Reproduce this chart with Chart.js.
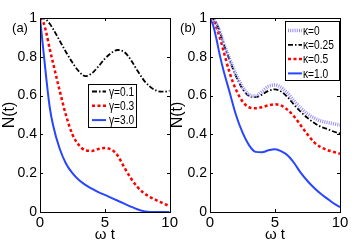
<!DOCTYPE html>
<html>
<head>
<meta charset="utf-8">
<script src="https://cdn.jsdelivr.net/npm/chart.js@4"></script>
<style>
  body { margin: 0; background: #fff; }
  #wrap { position: relative; width: 360px; height: 250px; overflow: hidden; }
  canvas { position: absolute; top: 0; }
</style>
</head>
<body>
<div id="wrap">
  <canvas id="ca" width="180" height="250" style="left:0;width:180px;height:250px"></canvas>
  <canvas id="cb" width="192" height="250" style="left:168px;width:192px;height:250px"></canvas>
</div>
<script>
// time axis (omega t), shared by every curve
const T = [0, 0.25, 0.5, 0.75, 1, 1.5, 2, 2.5, 3, 3.5, 4, 4.5, 5, 5.5, 6, 6.5, 7, 7.5, 8, 8.5, 9, 9.5, 10];

// panel (a): N(t) for three gamma values
const gamma01 = [1, 0.998, 0.99, 0.97, 0.945, 0.885, 0.825, 0.77, 0.725, 0.70, 0.715, 0.75, 0.79, 0.82, 0.835, 0.825, 0.785, 0.73, 0.68, 0.645, 0.625, 0.62, 0.625];
const gamma03 = [1, 0.98, 0.92, 0.84, 0.77, 0.63, 0.50, 0.40, 0.345, 0.318, 0.315, 0.325, 0.33, 0.322, 0.29, 0.23, 0.175, 0.13, 0.098, 0.077, 0.06, 0.045, 0.03];
const gamma30 = [1, 0.84, 0.68, 0.54, 0.45, 0.33, 0.25, 0.20, 0.165, 0.14, 0.12, 0.102, 0.088, 0.073, 0.058, 0.043, 0.028, 0.014, 0.004, 0, 0, 0, 0];

// panel (b): N(t) for four kappa values
const kappa0   = [1, 0.995, 0.97, 0.93, 0.88, 0.79, 0.71, 0.645, 0.605, 0.598, 0.62, 0.648, 0.655, 0.64, 0.61, 0.57, 0.535, 0.505, 0.485, 0.47, 0.462, 0.455, 0.448];
const kappa025 = [1, 0.995, 0.97, 0.93, 0.875, 0.785, 0.70, 0.635, 0.598, 0.592, 0.605, 0.625, 0.632, 0.62, 0.59, 0.55, 0.515, 0.485, 0.46, 0.44, 0.428, 0.415, 0.405];
const kappa05  = [1, 0.99, 0.95, 0.90, 0.84, 0.72, 0.63, 0.57, 0.54, 0.535, 0.54, 0.55, 0.555, 0.548, 0.525, 0.49, 0.445, 0.40, 0.36, 0.335, 0.32, 0.31, 0.30];
const kappa10  = [1, 0.96, 0.89, 0.81, 0.74, 0.62, 0.50, 0.41, 0.345, 0.31, 0.308, 0.318, 0.323, 0.312, 0.29, 0.25, 0.20, 0.16, 0.125, 0.095, 0.07, 0.045, 0.025];

const xTicks = [0, 5, 10];
const yTicks = [0, 0.2, 0.4, 0.6, 0.8, 1];

const FONT = '"Liberation Sans", Arial, Helvetica, sans-serif';

const pts = (ys) => T.map((t, i) => ({ x: t, y: ys[i] }));

const styles = {
  black:  { borderColor: '#000', borderWidth: 1.8, borderDash: [5, 2, 1.5, 2] },
  red:    { borderColor: 'rgb(255,0,0)', borderWidth: 2.5, borderDash: [3, 2.5] },
  blue:   { borderColor: 'rgb(40,70,255)', borderWidth: 2, borderDash: [] },
  purple: { borderColor: 'rgb(150,140,250)', borderWidth: 3.5, borderDash: [1, 1.2] }
};

const line = (label, ys, st) => Object.assign({
  label, data: pts(ys), pointRadius: 0, fill: false,
  cubicInterpolationMode: 'monotone'
}, st);

// frame, inward ticks, boxed legend and panel tag
const decor = {
  id: 'decor',
  afterDraw(chart, args, o) {
    const { ctx, chartArea: a, scales: { x, y } } = chart;
    const L = Math.round(a.left), R = Math.round(a.right), Tp = Math.round(a.top), B = Math.round(a.bottom);
    ctx.save();
    ctx.setLineDash([]);
    ctx.strokeStyle = '#000';
    ctx.lineWidth = 1;
    ctx.strokeRect(L + 0.5, Tp + 0.5, R - L, B - Tp);
    ctx.beginPath();
    xTicks.forEach(v => {
      const px = Math.round(x.getPixelForValue(v)) + 0.5;
      ctx.moveTo(px, B); ctx.lineTo(px, B - 3);
      ctx.moveTo(px, Tp); ctx.lineTo(px, Tp + 3);
    });
    yTicks.forEach(v => {
      const py = Math.round(y.getPixelForValue(v)) + 0.5;
      ctx.moveTo(L, py); ctx.lineTo(L + 3, py);
      ctx.moveTo(R, py); ctx.lineTo(R - 3, py);
    });
    ctx.stroke();

    // legend
    const lg = o.box;
    ctx.fillStyle = '#fff';
    ctx.fillRect(lg.left, lg.top, lg.width, lg.height);
    ctx.strokeRect(lg.left + 0.5, lg.top + 0.5, lg.width, lg.height);
    ctx.font = '12px ' + FONT;
    ctx.textBaseline = 'middle';
    chart.data.datasets.forEach((ds, i) => {
      const ry = lg.row0 + i * lg.rowH;
      ctx.save();
      ctx.strokeStyle = ds.borderColor;
      ctx.lineWidth = ds.borderWidth;
      ctx.setLineDash(ds.borderDash);
      ctx.beginPath();
      ctx.moveTo(lg.sampleX, ry);
      ctx.lineTo(lg.sampleX + 14, ry);
      ctx.stroke();
      ctx.restore();
      ctx.save();
      ctx.translate(lg.textX, ry);
      ctx.scale(0.85, 1);
      ctx.fillStyle = '#000';
      ctx.fillText(ds.label, 0, 1);
      ctx.restore();
    });

    // panel tag
    ctx.fillStyle = '#000';
    ctx.font = '13px ' + FONT;
    ctx.textAlign = 'center';
    ctx.fillText(o.tag, o.tagX, 28);
    ctx.restore();
  }
};

function panel(id, datasets, yWidth, padRight, tag, box) {
  return new Chart(document.getElementById(id), {
    type: 'line',
    data: { datasets },
    plugins: [decor],
    options: {
      responsive: false,
      animation: false,
      events: [],
      layout: { padding: { top: 18, right: padRight, left: 0, bottom: 0 } },
      plugins: {
        legend: { display: false },
        tooltip: { enabled: false },
        decor: { tag, tagX: 20, box }
      },
      scales: {
        x: {
          type: 'linear', min: 0, max: 10,
          afterBuildTicks: s => { s.ticks = xTicks.map(v => ({ value: v })); },
          afterFit: s => { s.height = 38; },
          grid: { display: false, drawTicks: false },
          border: { display: false },
          ticks: { color: '#000', padding: 2, maxRotation: 0, font: { family: FONT, size: 15 } },
          title: { display: true, text: 'ω t', color: '#000', padding: { top: 0, bottom: 6 }, font: { family: FONT, size: 15 } }
        },
        y: {
          min: 0, max: 1,
          afterBuildTicks: s => { s.ticks = yTicks.map(v => ({ value: v })); },
          afterFit: s => { s.width = yWidth; },
          grid: { display: false, drawTicks: false },
          border: { display: false },
          ticks: { color: '#000', padding: 3, callback: v => String(Math.round(v * 10) / 10), font: { family: FONT, size: 14 } },
          title: { display: true, text: 'N(t)', color: '#000', padding: 0, font: { family: FONT, size: 16 } }
        }
      }
    }
  });
}

panel('ca', [
  line('γ=0.1', gamma01, styles.black),
  line('γ=0.3', gamma03, styles.red),
  line('γ=3.0', gamma30, styles.blue)
], 40, 10, '(a)', { left: 88, top: 84, width: 48, height: 43, row0: 91.5, rowH: 14.3, sampleX: 92, textX: 109 });

panel('cb', [
  line('κ=0', kappa0, styles.purple),
  line('κ=0.25', kappa025, styles.black),
  line('κ=0.5', kappa05, styles.red),
  line('κ=1.0', kappa10, styles.blue)
], 42, 20, '(b)', { left: 117, top: 21, width: 54, height: 59, row0: 30.5, rowH: 14.3, sampleX: 120, textX: 135 });
</script>
</body>
</html>
